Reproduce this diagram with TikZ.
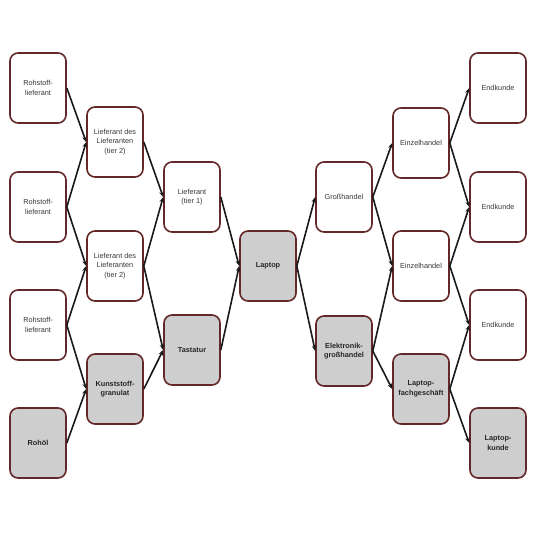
\documentclass[tikz,border=0pt]{standalone}
\usepackage{fontspec}
\setmainfont{Liberation Sans}
\usetikzlibrary{arrows.meta}
\definecolor{boxborder}{RGB}{100,40,40}
\definecolor{boxgray}{RGB}{206,206,206}
\definecolor{txt}{RGB}{55,55,55}
\tikzset{
  box/.style={draw=boxborder, line width=1.6pt, rounded corners=8pt, minimum width=56pt, minimum height=70pt, inner sep=1pt, align=center, text=txt, font=\fontsize{7.3}{9.5}\selectfont, fill=white},
  gbox/.style={box, fill=boxgray, font=\fontsize{7.3}{9.5}\selectfont\bfseries, text=black!85},
  arr/.style={line width=1.6pt, black!90, -{Stealth[length=5.5pt,width=4.5pt]}}
}
\begin{document}
\begin{tikzpicture}[x=1pt,y=-1pt]
\useasboundingbox (0,0) rectangle (540,539);
% column 1
\node[box]  (r1) at (38,88)  {Rohstoff-\\lieferant};
\node[box]  (r2) at (38,207) {Rohstoff-\\lieferant};
\node[box]  (r3) at (38,325) {Rohstoff-\\lieferant};
\node[gbox] (oel) at (38,443) {Rohöl};
% column 2
\node[box]  (l2a) at (115,142) {Lieferant des\\Lieferanten\\(tier 2)};
\node[box]  (l2b) at (115,266) {Lieferant des\\Lieferanten\\(tier 2)};
\node[gbox] (kg)  at (115,389) {Kunststoff-\\granulat};
% column 3
\node[box]  (l1)  at (192,197) {Lieferant\\(tier 1)};
\node[gbox] (tas) at (192,350) {Tastatur};
% column 4
\node[gbox] (lap) at (268,266) {Laptop};
% column 5
\node[box]  (gh)  at (344,197) {Großhandel};
\node[gbox] (egh) at (344,351) {Elektronik-\\großhandel};
% column 6
\node[box]  (e1)  at (421,143) {Einzelhandel};
\node[box]  (e2)  at (421,266) {Einzelhandel};
\node[gbox] (lf)  at (421,389) {Laptop-\\fachgeschäft};
% column 7
\node[box]  (k1)  at (498,88)  {Endkunde};
\node[box]  (k2)  at (498,207) {Endkunde};
\node[box]  (k3)  at (498,325) {Endkunde};
\node[gbox] (lk)  at (498,443) {Laptop-\\kunde};
% connectors
\draw[arr] (r1.east) -- (l2a.west);
\draw[arr] (r2.east) -- (l2a.west);
\draw[arr] (r2.east) -- (l2b.west);
\draw[arr] (r3.east) -- (l2b.west);
\draw[arr] (r3.east) -- (kg.west);
\draw[arr] (oel.east) -- (kg.west);
\draw[arr] (l2a.east) -- (l1.west);
\draw[arr] (l2b.east) -- (l1.west);
\draw[arr] (l2b.east) -- (tas.west);
\draw[arr] (kg.east) -- (tas.west);
\draw[arr] (l1.east) -- (lap.west);
\draw[arr] (tas.east) -- (lap.west);
\draw[arr] (lap.east) -- (gh.west);
\draw[arr] (lap.east) -- (egh.west);
\draw[arr] (gh.east) -- (e1.west);
\draw[arr] (gh.east) -- (e2.west);
\draw[arr] (egh.east) -- (e2.west);
\draw[arr] (egh.east) -- (lf.west);
\draw[arr] (e1.east) -- (k1.west);
\draw[arr] (e1.east) -- (k2.west);
\draw[arr] (e2.east) -- (k2.west);
\draw[arr] (e2.east) -- (k3.west);
\draw[arr] (lf.east) -- (k3.west);
\draw[arr] (lf.east) -- (lk.west);
\end{tikzpicture}
\end{document}
